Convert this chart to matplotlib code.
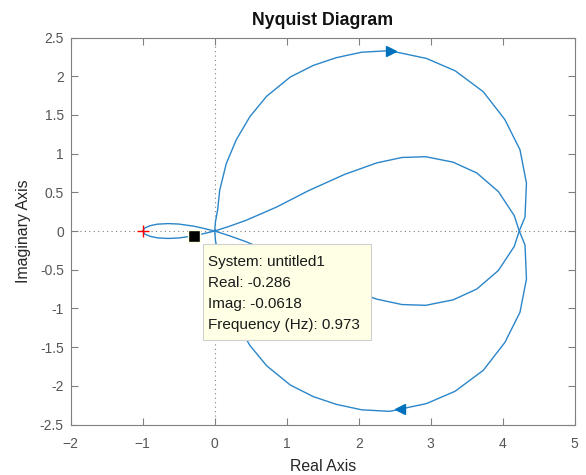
import numpy as np
import matplotlib
matplotlib.use('Agg')
from matplotlib import pyplot as plt
from matplotlib.patches import Rectangle

plt.rcParams['font.family'] = ['Liberation Sans', 'DejaVu Sans']

# upper half of the nyquist curve (lower half = mirror)
lobe_re = [-1.0, -0.97, -0.9, -0.8, -0.65, -0.5, -0.286, -0.15, 0.0]
lobe_im = [0.0, 0.04, 0.068, 0.088, 0.096, 0.09, 0.0618, 0.033, 0.0]

inner_re = [0.0, 0.2, 0.44, 0.86, 1.3, 1.8, 2.25, 2.6, 2.93, 3.31, 3.64, 3.94, 4.16, 4.23]
inner_im = [0.0, 0.06, 0.14, 0.31, 0.52, 0.73, 0.88, 0.95, 0.96, 0.89, 0.75, 0.51, 0.2, 0.0]

outer_re = [0.0, 0.01, 0.04, 0.07, 0.16, 0.30, 0.49, 0.72, 1.05, 1.37, 1.69, 2.04, 2.43,
            2.94, 3.34, 3.73, 4.03, 4.24, 4.33, 4.31, 4.23]
outer_im = [0.0, 0.12, 0.27, 0.53, 0.87, 1.18, 1.48, 1.74, 1.99, 2.14, 2.24, 2.31, 2.33,
            2.23, 2.07, 1.80, 1.44, 1.05, 0.62, 0.18, 0.0]

arrow_re = [2.45, 2.57]
arrow_im = [2.325, -2.305]

tip_re, tip_im = -0.286, -0.0618
tip_lines = ['System: untitled1', 'Real: -0.286', 'Imag: -0.0618', 'Frequency (Hz): 0.973']

lobe = np.array(lobe_re) + 1j * np.array(lobe_im)
inner = np.array(inner_re) + 1j * np.array(inner_im)
outer = np.array(outer_re) + 1j * np.array(outer_im)

# branch: lower lobe -> inner top -> outer bottom back to origin
branch = np.concatenate([np.conj(lobe), inner[1:], np.conj(outer[::-1])[1:]])
mirror = np.conj(branch)

blue = '#2a86c9'
fig = plt.figure(figsize=(5.86, 4.75), dpi=100)
ax = fig.add_axes([0.1207, 0.1063, 0.86, 0.8147])

ax.axhline(0, color='#808080', ls=(0, (1, 3)), lw=0.8, zorder=1)
ax.axvline(0, color='#808080', ls=(0, (1, 3)), lw=0.8, zorder=1)

ax.plot(branch.real, branch.imag, color=blue, lw=1.0, zorder=2)
ax.plot(mirror.real, mirror.imag, color=blue, lw=1.0, zorder=2)
ax.plot(arrow_re[0], arrow_im[0], marker='>', ms=6.5, color='#0072BD', zorder=3)
ax.plot(arrow_re[1], arrow_im[1], marker='<', ms=6.5, color='#0072BD', zorder=3)

ax.plot(-1, 0, marker='+', color='red', ms=8, mew=1.0, zorder=3)

# data tip
ax.plot(tip_re, tip_im, marker='s', ms=8.5, color='black', mec='#FFFFE1', mew=1.0, zorder=6)
ax.add_patch(Rectangle((-0.16, -1.41), 2.33, 1.24, facecolor='#FFFFE6',
                       edgecolor='#D0D0D0', lw=0.8, zorder=5))
for i, s in enumerate(tip_lines):
    ax.text(-0.09, -0.397 - 0.272 * i, s, fontsize=11, color='#1a1a1a',
            va='center', ha='left', zorder=7)

ax.set_xlim(-2, 5)
ax.set_ylim(-2.5, 2.5)
ax.set_xticks(np.arange(-2, 6, 1))
ax.set_yticks(np.arange(-2.5, 2.6, 0.5))
ax.set_yticklabels(['-2.5', '-2', '-1.5', '-1', '-0.5', '0', '0.5', '1', '1.5', '2', '2.5'])
ax.tick_params(direction='in', length=5, width=0.8, colors='#808080', labelcolor='#555555',
               labelsize=10, top=True, right=True)
ax.tick_params(axis='x', pad=9)
ax.tick_params(axis='y', pad=5)
for sp in ax.spines.values():
    sp.set_color('#808080')
    sp.set_linewidth(0.8)

ax.set_title('Nyquist Diagram', fontsize=12.8, fontweight='bold', color='#111111', pad=9)
ax.set_xlabel('Real Axis', fontsize=11.4, color='#262626', labelpad=6)
ax.set_ylabel('Imaginary Axis', fontsize=11.4, color='#262626', labelpad=6)

fig.savefig('out.png', dpi=100)
